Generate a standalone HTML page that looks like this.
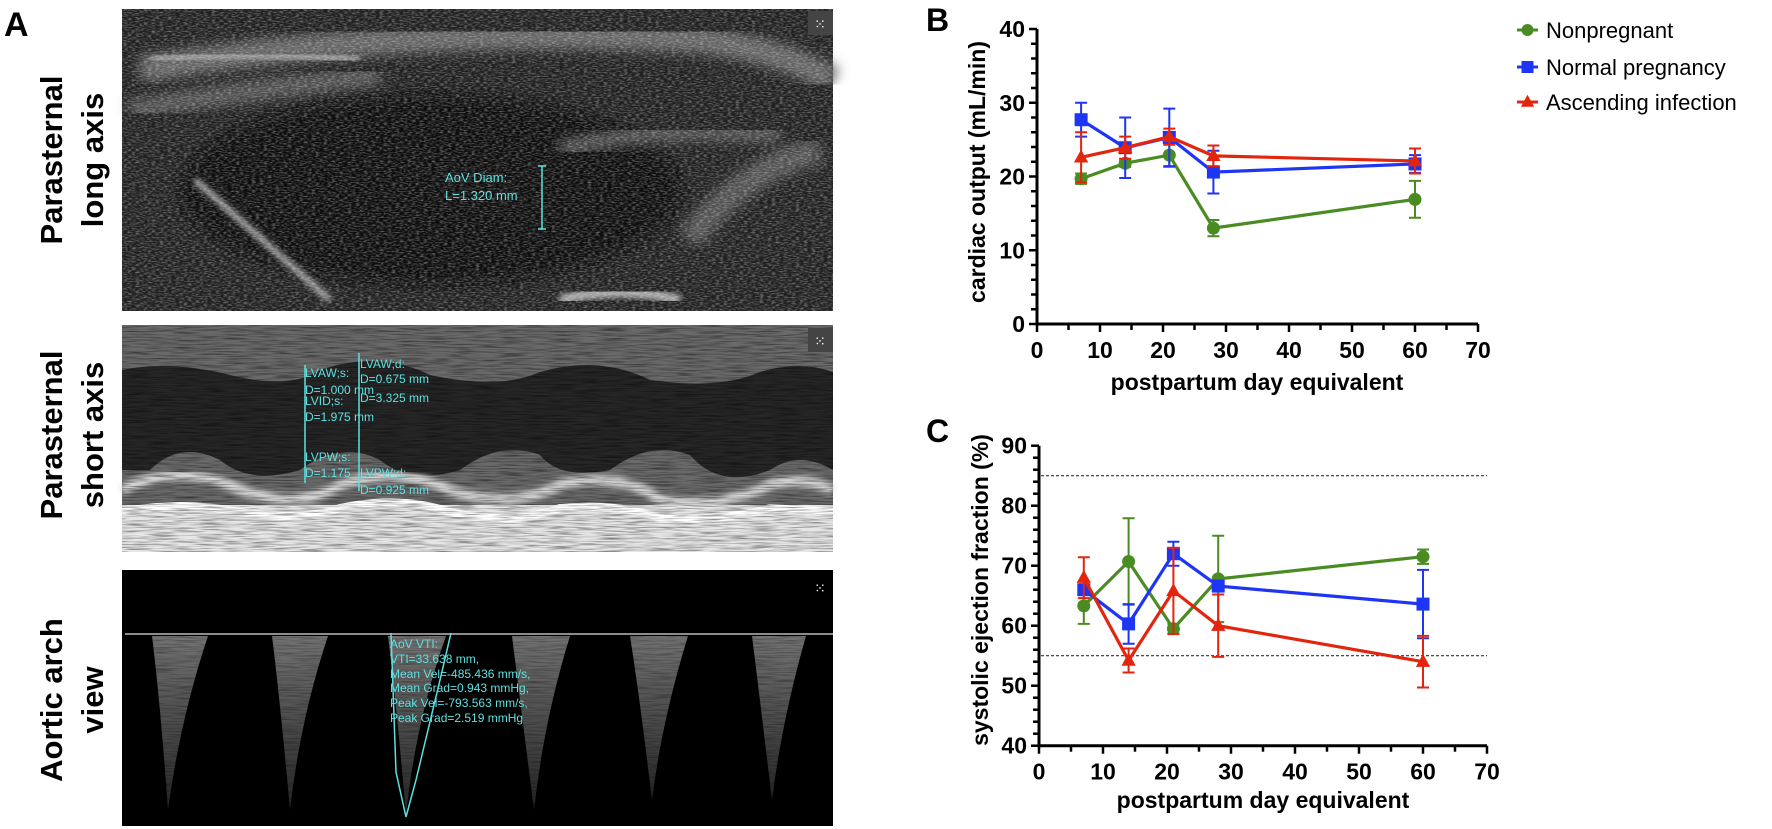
<!DOCTYPE html>
<html><head><meta charset="utf-8">
<style>
html,body{margin:0;padding:0;background:#fff;}
body{width:1772px;height:829px;position:relative;overflow:hidden;font-family:"Liberation Sans",Arial,sans-serif;}
svg text{font-family:"Liberation Sans",Arial,sans-serif;}
</style></head>
<body>
<svg id="fig" width="1772" height="829" viewBox="0 0 1772 829" xmlns="http://www.w3.org/2000/svg" style="position:absolute;left:0;top:0">
<defs>
  <filter id="speck" x="0" y="0" width="100%" height="100%">
    <feTurbulence type="fractalNoise" baseFrequency="0.25 0.8" numOctaves="2" seed="3"/>
    <feColorMatrix type="matrix" values="0 0 0 0 1  0 0 0 0 1  0 0 0 0 1  2.2 0 0 0 -0.9"/>
  </filter>
  <filter id="speck2" x="0" y="0" width="100%" height="100%">
    <feTurbulence type="fractalNoise" baseFrequency="0.04 0.7" numOctaves="2" seed="7"/>
    <feColorMatrix type="matrix" values="0 0 0 0 0  0 0 0 0 0  0 0 0 0 0  2.2 0 0 0 -0.9"/>
  </filter>
  <filter id="blur6"><feGaussianBlur stdDeviation="6"/></filter>
  <filter id="blur3"><feGaussianBlur stdDeviation="3"/></filter>
  <linearGradient id="dop" x1="0" y1="0" x2="0" y2="1">
    <stop offset="0" stop-color="#999"/><stop offset="1" stop-color="#333"/>
  </linearGradient>
</defs>

<text x="4" y="36" font-size="34" font-weight="bold">A</text>

<g>
  <rect x="122" y="9" width="711" height="302" fill="#202020"/>
  <ellipse cx="430" cy="190" rx="250" ry="95" fill="#0e0e0e" filter="url(#blur6)"/>
  <path d="M140 70 Q400 25 700 40 Q780 50 833 80" stroke="#666" stroke-width="26" fill="none" filter="url(#blur6)"/>
  <path d="M130 110 Q250 90 380 75" stroke="#555" stroke-width="20" fill="none" filter="url(#blur6)"/>
  <path d="M150 60 Q250 50 360 60" stroke="#999" stroke-width="8" fill="none" filter="url(#blur3)"/>
  <path d="M195 180 L330 300" stroke="#aaa" stroke-width="6" fill="none" filter="url(#blur3)"/>
  <path d="M560 300 Q620 285 680 300" stroke="#aaa" stroke-width="10" fill="none" filter="url(#blur3)"/>
  <path d="M560 150 Q650 125 780 135" stroke="#555" stroke-width="16" fill="none" filter="url(#blur6)"/>
  <path d="M690 240 Q740 170 820 150" stroke="#555" stroke-width="26" fill="none" filter="url(#blur6)"/>
  <rect x="122" y="9" width="711" height="302" filter="url(#speck)" opacity="0.4"/>
  <rect x="808" y="11" width="25" height="24" fill="#444"/>
  <text x="820" y="29" font-size="14" fill="#fff" text-anchor="middle">⁙</text>
  <line x1="542" y1="166" x2="542" y2="229" stroke="#5fe0e0" stroke-width="1.5"/>
  <line x1="538" y1="166" x2="546" y2="166" stroke="#5fe0e0" stroke-width="1.5"/>
  <line x1="538" y1="229" x2="546" y2="229" stroke="#5fe0e0" stroke-width="1.5"/>
  <text x="445" y="182" font-size="13" fill="#5fe0e0">AoV Diam:</text>
  <text x="445" y="200" font-size="13" fill="#5fe0e0">L=1.320 mm</text>
</g>

<g>
  <rect x="122" y="325" width="711" height="227" fill="#6a6a6a"/>
  <path d="M122 370 Q170 360 230 375 Q290 390 320 370 Q380 350 430 375 Q500 390 540 372 Q600 355 650 380 Q720 390 760 372 Q800 360 833 372 L833 470 Q800 450 770 470 Q720 490 690 455 Q650 440 610 470 Q560 480 540 455 Q500 440 460 470 Q410 485 380 460 Q340 440 300 470 Q250 485 220 460 Q180 440 150 470 L122 470 Z" fill="#262626"/>
  <path d="M122 490 Q180 460 240 490 Q300 510 340 485 Q400 465 450 490 Q510 510 560 485 Q620 470 660 500 Q720 510 770 485 Q800 475 833 490" stroke="#ddd" stroke-width="10" fill="none" filter="url(#blur3)"/>
  <rect x="122" y="505" width="711" height="47" fill="#e6e6e6"/>
  <path d="M122 512 Q180 500 240 512 Q300 522 340 508 Q400 495 450 512 Q510 526 560 508 Q620 503 660 518 Q720 522 770 508 L833 512" stroke="#fff" stroke-width="8" fill="none"/>
  <rect x="122" y="325" width="711" height="227" filter="url(#speck2)" opacity="0.5"/>
  <rect x="808" y="328" width="25" height="24" fill="#444"/>
  <text x="820" y="346" font-size="14" fill="#fff" text-anchor="middle">⁙</text>
  <g stroke="#5fe0e0" stroke-width="1.5">
    <line x1="305" y1="365" x2="305" y2="483"/>
    <line x1="359" y1="353" x2="359" y2="491"/>
  </g>
  <g font-size="12" fill="#5fe0e0">
    <text x="305" y="377">LVAW;s:</text>
    <text x="305" y="394">D=1.000 mm</text>
    <text x="305" y="405">LVID;s:</text>
    <text x="305" y="421">D=1.975 mm</text>
    <text x="305" y="461">LVPW;s:</text>
    <text x="305" y="477">D=1.175</text>
    <text x="360" y="368">LVAW;d:</text>
    <text x="360" y="383">D=0.675 mm</text>
    <text x="360" y="402">D=3.325 mm</text>
    <text x="360" y="477">LVPW;d:</text>
    <text x="360" y="494">D=0.925 mm</text>
  </g>
</g>

<g>
  <rect x="122" y="570" width="711" height="256" fill="#000"/>
  <g fill="url(#dop)" opacity="0.75">
    <path d="M152 636 Q160 700 168 810 Q180 720 208 636 Z"/>
    <path d="M272 636 Q280 700 290 810 Q300 720 328 636 Z"/>
    <path d="M388 636 Q396 700 406 815 Q416 720 446 636 Z"/>
    <path d="M512 636 Q520 700 534 810 Q544 720 570 636 Z"/>
    <path d="M630 636 Q640 700 652 800 Q662 720 688 636 Z"/>
    <path d="M752 636 Q760 700 772 800 Q782 720 806 636 Z"/>
  </g>
  <rect x="122" y="570" width="711" height="256" filter="url(#speck2)" opacity="0.35"/>
  <line x1="125" y1="634" x2="833" y2="634" stroke="#bbb" stroke-width="1.5"/>
  <text x="820" y="593" font-size="14" fill="#fff" text-anchor="middle">⁙</text>
  <path d="M391 633 L396 772 L406 817 L416 780 L440 680 L451 633" stroke="#5fe0e0" stroke-width="1.5" fill="none"/>
  <g font-size="12" fill="#5fe0e0">
    <text x="390" y="648">AoV VTI:</text>
    <text x="390" y="663">VTI=33.638 mm,</text>
    <text x="390" y="678">Mean Vel=-485.436 mm/s,</text>
    <text x="390" y="692">Mean Grad=0.943 mmHg,</text>
    <text x="390" y="707">Peak Vel=-793.563 mm/s,</text>
    <text x="390" y="722">Peak Grad=2.519 mmHg</text>
  </g>
</g>

<g font-size="31" font-weight="bold" text-anchor="middle">
  <text transform="translate(62,160) rotate(-90)">Parasternal</text>
  <text transform="translate(103,160) rotate(-90)">long axis</text>
  <text transform="translate(62,435) rotate(-90)">Parasternal</text>
  <text transform="translate(103,435) rotate(-90)">short axis</text>
  <text transform="translate(62,700) rotate(-90)">Aortic arch</text>
  <text transform="translate(103,700) rotate(-90)">view</text>
</g>

<text x="926" y="31" font-size="32" font-weight="bold">B</text>
<text x="926" y="442" font-size="32" font-weight="bold">C</text>

<g id="chartB"></g>
<g id="chartC"></g>
<g id="legend"></g>
</svg>

<script>
const days = [7, 14, 21, 28, 60];
const seriesNames = ["Nonpregnant", "Normal pregnancy", "Ascending infection"];
const seriesColors = ["#4a8c23", "#1f35f5", "#e3250e"];
const seriesShapes = ["circle", "square", "triangle"];
const coNonpregnant = [19.7, 21.8, 22.9, 13.0, 16.9];
const coNonpregnantErr = [0.7, 0.5, 1.6, 1.1, 2.5];
const coNormal = [27.7, 23.9, 25.3, 20.6, 21.7];
const coNormalErr = [2.3, 4.1, 3.9, 2.9, 1.2];
const coAscending = [22.6, 23.9, 25.4, 22.8, 22.1];
const coAscendingErr = [3.4, 1.5, 1.1, 1.4, 1.7];
const coTicksY = [0, 10, 20, 30, 40];
const coTicksX = [0, 10, 20, 30, 40, 50, 60, 70];
const efNonpregnant = [63.3, 70.7, 59.5, 67.8, 71.5];
const efNonpregnantErr = [3.0, 7.2, 0.8, 7.2, 1.2];
const efNormal = [66.0, 60.3, 72.0, 66.6, 63.6];
const efNormalErr = [0.6, 3.3, 2.0, 0.9, 5.7];
const efAscending = [68.0, 54.2, 65.8, 60.0, 54.0];
const efAscendingErr = [3.4, 2.0, 7.2, 5.2, 4.3];
const efTicksY = [40, 50, 60, 70, 80, 90];
const efTicksX = [0, 10, 20, 30, 40, 50, 60, 70];
const efRefLines = [85, 55];

const NS = "http://www.w3.org/2000/svg";
function mk(parent, tag, attrs) {
  const e = document.createElementNS(NS, tag);
  for (const k in attrs) e.setAttribute(k, attrs[k]);
  parent.appendChild(e);
  return e;
}
function marker(g, shape, cx, cy, color, s) {
  let m;
  if (shape === "circle") m = mk(g, "circle", {cx: cx, cy: cy, r: s * 0.5, fill: color});
  else if (shape === "square") m = mk(g, "rect", {x: cx - s / 2, y: cy - s / 2, width: s, height: s, fill: color});
  else m = mk(g, "polygon", {points: `${cx},${cy - s * 0.6} ${cx - s * 0.55},${cy + s * 0.4} ${cx + s * 0.55},${cy + s * 0.4}`, fill: color});
  return m;
}

function drawChart(g, opt) {
  const xs = v => opt.x0 + (v - opt.xmin) * opt.xs;
  const ys = v => opt.y0 - (v - opt.ymin) * opt.ys;
  const ax = mk(g, "g", {stroke: "#000", "stroke-width": 3});
  
  
  const xmax = opt.ticksX[opt.ticksX.length - 1], ymax = opt.ticksY[opt.ticksY.length - 1];
  mk(ax, "line", {x1: xs(opt.xmin), y1: ys(opt.ymin), x2: xs(xmax), y2: ys(opt.ymin)});
  mk(ax, "line", {x1: xs(opt.xmin), y1: ys(opt.ymin) + 1.5, x2: xs(opt.xmin), y2: ys(ymax)});
  for (let v = opt.ymin; v <= ymax + 1e-6; v += 2) {
    const major = Math.abs((v - opt.ymin) % 10) < 1e-6;
    mk(ax, "line", {x1: xs(opt.xmin) - (major ? 8 : 6), y1: ys(v), x2: xs(opt.xmin), y2: ys(v), "stroke-width": 2.5});
  }
  for (let v = opt.xmin; v <= xmax + 1e-6; v += 5) {
    const major = v % 10 === 0;
    mk(ax, "line", {x1: xs(v), y1: ys(opt.ymin), x2: xs(v), y2: ys(opt.ymin) + (major ? 8 : 6), "stroke-width": 2.5});
  }
  opt.ticksY.forEach(v => {
    const t = mk(g, "text", {x: xs(opt.xmin) - 12, y: ys(v) + 8, "font-size": 23, "font-weight": "bold", "text-anchor": "end"});
    
    
    t.textContent = v;
  });
  opt.ticksX.forEach(v => {
    const t = mk(g, "text", {x: xs(v), y: ys(opt.ymin) + 34, "font-size": 23, "font-weight": "bold", "text-anchor": "middle"});
    
    
    t.textContent = v;
  });
  const xt = mk(g, "text", {x: opt.xlabelX, y: opt.xlabelY, "font-size": 23, "font-weight": "bold", "text-anchor": "middle"});
  
  
  xt.textContent = "postpartum day equivalent";
  const yt = mk(g, "text", {transform: `translate(${opt.ylabelX},${opt.ylabelY}) rotate(-90)`, "font-size": 23, "font-weight": "bold", "text-anchor": "middle"});
  
  
  yt.textContent = opt.ylabel;
  (opt.refs || []).forEach(r => {
    const l = mk(g, "line", {x1: xs(opt.xmin) + 2, y1: ys(r), x2: xs(xmax), y2: ys(r), stroke: "#333", "stroke-width": 1.2, "stroke-dasharray": "3,2"});
    
    
  });
  opt.series.forEach((s, si) => {
    const col = seriesColors[si];
    const sg = mk(g, "g", {});
    
    
    s.vals.forEach((v, i) => {
      const x = xs(days[i]), e = s.err[i];
      const eb = mk(sg, "path", {d: `M${x},${ys(v + e)}V${ys(v - e)}M${x - 6},${ys(v + e)}H${x + 6}M${x - 6},${ys(v - e)}H${x + 6}`, stroke: col, "stroke-width": 2, fill: "none"});
      
      
    });
    const line = mk(sg, "polyline", {points: s.vals.map((v, i) => xs(days[i]) + "," + ys(v)).join(" "), stroke: col, "stroke-width": 3.2, fill: "none"});
    
    
    s.vals.forEach((v, i) => {
      const m = marker(sg, seriesShapes[si], xs(days[i]), ys(v), col, 13);
      
      
    });
  });
}

drawChart(document.getElementById("chartB"), {
  x0: 1037, xmin: 0, xs: 6.3, y0: 324, ymin: 0, ys: 7.375,
  ticksX: coTicksX, ticksY: coTicksY,
  xlabelX: 1257, xlabelY: 390, ylabelX: 985, ylabelY: 172, ylabel: "cardiac output (mL/min)",
  series: [{vals: coNonpregnant, err: coNonpregnantErr}, {vals: coNormal, err: coNormalErr}, {vals: coAscending, err: coAscendingErr}]
});
drawChart(document.getElementById("chartC"), {
  x0: 1039, xmin: 0, xs: 6.4, y0: 745.7, ymin: 40, ys: 6.0,
  ticksX: efTicksX, ticksY: efTicksY,
  xlabelX: 1263, xlabelY: 808, ylabelX: 988, ylabelY: 590, ylabel: "systolic ejection fraction (%)",
  refs: efRefLines,
  series: [{vals: efNonpregnant, err: efNonpregnantErr}, {vals: efNormal, err: efNormalErr}, {vals: efAscending, err: efAscendingErr}]
});

const lg = document.getElementById("legend");
const legendY = [30, 67, 102];
seriesNames.forEach((n, i) => {
  const e = mk(lg, "g", {});
  
  
  mk(e, "line", {x1: 1517, y1: legendY[i], x2: 1538, y2: legendY[i], stroke: seriesColors[i], "stroke-width": 3});
  marker(e, seriesShapes[i], 1527.5, legendY[i], seriesColors[i], 12);
  const t = mk(e, "text", {x: 1546, y: legendY[i] + 8, "font-size": 22});
  t.textContent = n;
});
</script>
</body></html>
